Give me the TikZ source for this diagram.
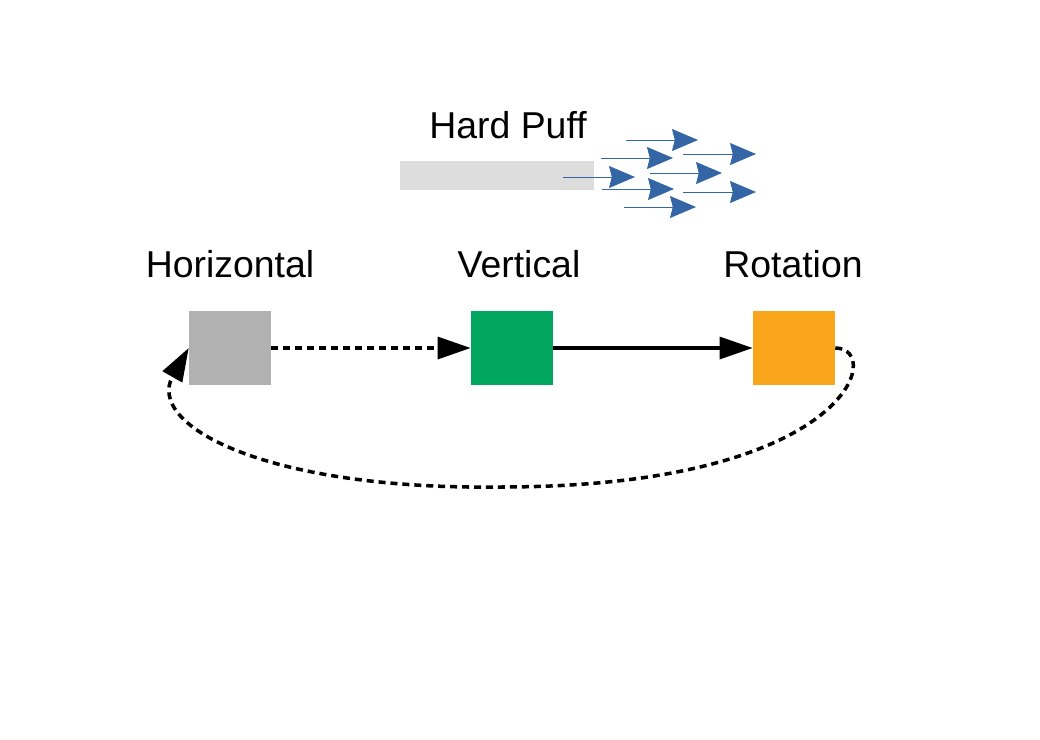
\documentclass[tikz,border=0pt]{standalone}
\usepackage{fontspec}
\setmainfont{Liberation Sans}
\usetikzlibrary{arrows.meta}

\definecolor{boxgray}{HTML}{B2B2B2}
\definecolor{boxgreen}{HTML}{00A65D}
\definecolor{boxorange}{HTML}{F9A61C}
\definecolor{puffgray}{HTML}{DDDDDD}
\definecolor{puffblue}{HTML}{3465A4}

\tikzset{
  statebox/.style={minimum width=2.05cm, minimum height=1.85cm, inner sep=0pt},
  statelabel/.style={font=\fontsize{26.6}{32}\selectfont, inner sep=0pt},
  trans/.style={line width=2.5pt, -{Triangle[length=0.83cm, width=0.55cm]}},
  dashtrans/.style={trans, dash pattern=on 5pt off 3.5pt},
  puff/.style={puffblue, line width=0.7pt, -{Stealth[length=0.65cm, width=0.55cm, inset=0.07cm]}}
}

\begin{document}
\begin{tikzpicture}[x=0.025cm, y=-0.025cm]
\useasboundingbox (0,0) rectangle (1040,739);

    % hard puff
    \node[statelabel] (puff) at (508,125) {Hard Puff};
    \fill[puffgray] (400,161) rectangle (594,190);

    \coordinate (a1) at (626,140); \coordinate (b1) at (698,140);
    \coordinate (a2) at (601,158); \coordinate (b2) at (673,158);
    \coordinate (a3) at (683,154); \coordinate (b3) at (756,154);
    \coordinate (a4) at (563,177); \coordinate (b4) at (635,177);
    \coordinate (a5) at (650,173); \coordinate (b5) at (722,173);
    \coordinate (a6) at (602,189); \coordinate (b6) at (674,189);
    \coordinate (a7) at (683,192); \coordinate (b7) at (756,192);
    \coordinate (a8) at (624,207); \coordinate (b8) at (696,207);
    \foreach \i in {1,...,8}
        \draw[puff] (a\i) -- (b\i);

    % states
    \node[statebox, fill=boxgray] (hor) at (230,348) {};
    \node[statebox, fill=boxgreen] (ver) at (512,348) {};
    \node[statebox, fill=boxorange] (rot) at (794,348) {};

    \node[statelabel] (horlabel) at (230,264) {Horizontal};
    \node[statelabel] (verlabel) at (519,264) {Vertical};
    \node[statelabel] (rotlabel) at (793,264) {Rotation};

    % transitions
    \draw[dashtrans] (hor.east) -- (ver.west);
    \draw[trans] (ver.east) -- (rot.west);
    \coordinate (low) at (500,487);
    \draw[dashtrans] (rot.east) .. controls (885,348) and (850,487) .. (low)
        .. controls (265,490) and (145,425) .. (hor.west);
\end{tikzpicture}
\end{document}
